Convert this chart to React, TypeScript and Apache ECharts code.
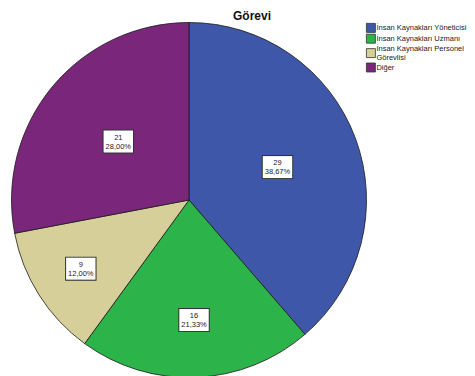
import React, { useEffect, useRef } from "react";
import * as echarts from "echarts";

const categories = [
  "İnsan Kaynakları Yöneticisi",
  "İnsan Kaynakları Uzmanı",
  "İnsan Kaynakları Personel Görevlisi",
  "Diğer",
];
const legendLabels = [
  "İnsan Kaynakları Yöneticisi",
  "İnsan Kaynakları Uzmanı",
  "İnsan Kaynakları Personel\nGörevlisi",
  "Diğer",
];
const counts = [29, 16, 9, 21];
const percentLabels = ["38,67%", "21,33%", "12,00%", "28,00%"];
const colors = ["#3e57a9", "#2cb34a", "#d6cf9a", "#7a267b"];
const labelRadiusFrac = [0.515, 0.66, 0.705, 0.5];

const CX = 189;
const CY = 200;
const R = 177.5;

export default function App() {
  const ref = useRef<HTMLDivElement>(null);
  useEffect(() => {
    if (!ref.current) return;
    const chart = echarts.init(ref.current, undefined, { renderer: "svg" });
    const total = counts.reduce((a, b) => a + b, 0);
    const mids: number[] = [];
    let cum = 0;
    counts.forEach((v) => {
      mids.push(((90 - (360 * (cum + v / 2)) / total) * Math.PI) / 180);
      cum += v;
    });
    chart.setOption({
      animation: false,
      backgroundColor: "#ffffff",
      title: {
        text: "Görevi",
        left: 228,
        top: 5,
        textStyle: {
          fontFamily: "Liberation Sans, Arial, sans-serif",
          fontSize: 12,
          fontWeight: "bold",
          color: "#111",
        },
      },
      legend: {
        orient: "vertical",
        left: 366,
        top: 23,
        itemWidth: 9,
        itemHeight: 9,
        itemGap: 1,
        icon: "rect",
        padding: 0,
        data: categories,
        formatter: (name: string) => legendLabels[categories.indexOf(name)],
        textStyle: {
          fontFamily: "Liberation Sans, Arial, sans-serif",
          fontSize: 7.5,
          lineHeight: 8.5,
          color: "#222",
          padding: [0, 0, 0, -4],
        },
        itemStyle: { borderColor: "#333", borderWidth: 0.8 },
      },
      series: [
        {
          type: "pie",
          center: [CX, CY],
          radius: [0, R],
          startAngle: 90,
          clockwise: true,
          avoidLabelOverlap: false,
          itemStyle: { borderColor: "#1a1a1a", borderWidth: 0.8 },
          label: {
            show: true,
            position: "inside",
            formatter: (p: any) => `${counts[p.dataIndex]}\n${percentLabels[p.dataIndex]}`,
            fontFamily: "Liberation Sans, Arial, sans-serif",
            fontSize: 7.5,
            lineHeight: 9,
            color: "#222",
            backgroundColor: "#ffffff",
            borderColor: "#333",
            borderWidth: 1,
            padding: [2, 2, 2, 2],
            align: "center",
          },
          labelLine: { show: false },
          labelLayout: (params: any) => {
            const i = params.dataIndex;
            const extra = (labelRadiusFrac[i] - 0.5) * R;
            return {
              dx: extra * Math.cos(mids[i]),
              dy: -extra * Math.sin(mids[i]),
            };
          },
          emphasis: { disabled: true },
          data: categories.map((name, i) => ({
            name,
            value: counts[i],
            itemStyle: { color: colors[i] },
          })),
        },
      ],
    });
    return () => chart.dispose();
  }, []);
  return (
    <div
      ref={ref}
      style={{ position: "fixed", left: 0, top: 0, width: 475, height: 376 }}
    />
  );
}
